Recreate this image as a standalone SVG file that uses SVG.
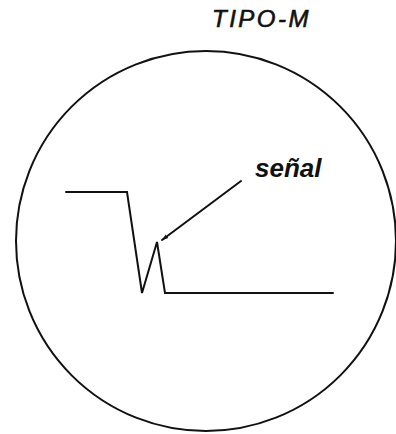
<svg xmlns="http://www.w3.org/2000/svg" width="396" height="434" viewBox="0 0 396 434">
<style>
.ln{fill:none;stroke:#111;stroke-width:2;stroke-linejoin:miter;stroke-linecap:round}
.t{font-family:"Liberation Sans",Arial,sans-serif;font-style:italic;fill:#111}
</style>
<defs>
<marker id="ah" viewBox="0 0 10 10" refX="9" refY="5" markerWidth="7" markerHeight="7" orient="auto" markerUnits="userSpaceOnUse">
<path d="M0,2 L10,5 L0,8 z" fill="#111"/>
</marker>
</defs>
<rect width="396" height="434" fill="#fff"/>
<g id="screen">
<circle class="ln" cx="206" cy="241" r="190"/>
</g>
<g id="trace">
<polyline class="ln" points="66,192 127,192 142,293 157,242 165,293 333,293"/>
</g>
<g id="connectors">
<line class="ln" x1="241" y1="181" x2="162" y2="240" marker-end="url(#ah)"/>
</g>
<g id="labels">
<text class="t" x="212" y="27" font-size="24" letter-spacing="2.5" stroke="#111" stroke-width="0.6">TIPO-M</text>
<text class="t" x="255" y="177" font-size="26" font-weight="bold">señal</text>
</g>
</svg>
